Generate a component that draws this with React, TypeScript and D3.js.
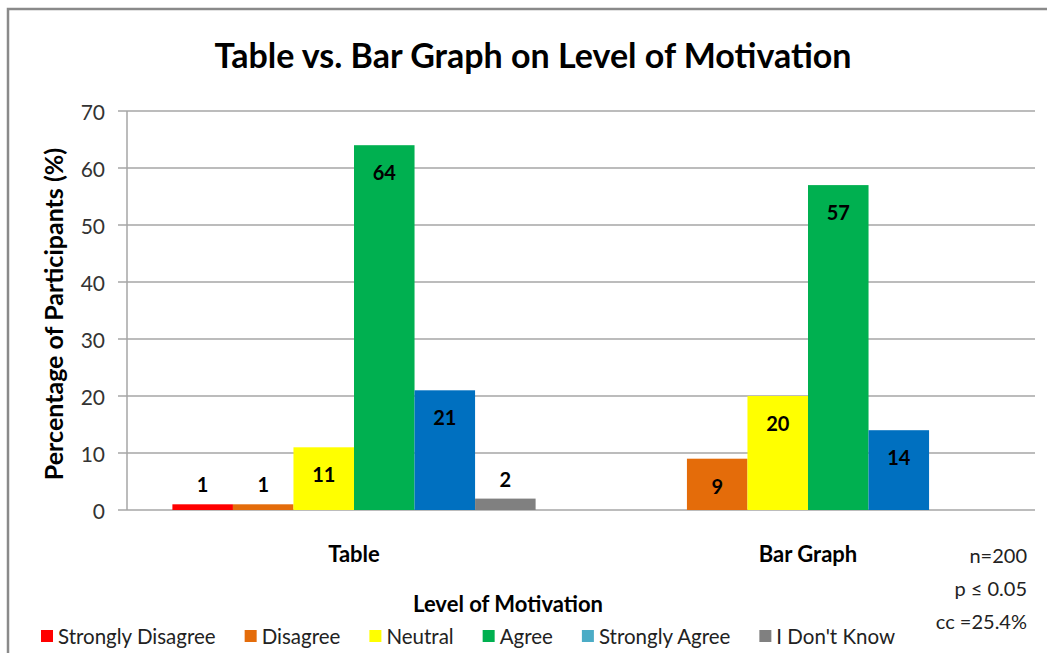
import React, { useEffect, useRef } from 'react';
import * as d3 from 'd3';

// chart data
const categories = ['Table', 'Bar Graph'];
const seriesNames = ['Strongly Disagree', 'Disagree', 'Neutral', 'Agree', 'Strongly Agree', "I Don't Know"];
const tableValues = [1, 1, 11, 64, 21, 2];
const barGraphValues = [null, 9, 20, 57, 14, null];
const barColors = ['#FF0000', '#E46C0A', '#FFFF00', '#00B050', '#0070C0', '#808080'];
const legendColors = ['#FF0000', '#E46C0A', '#FFFF00', '#00B050', '#4BACC6', '#808080'];
const yTicks = [0, 10, 20, 30, 40, 50, 60, 70];
const statsLines = ['n=200', 'p ≤ 0.05', 'cc =25.4%'];

const W = 1047;
const H = 653;
const FONT = 'Lato, "Open Sans", sans-serif';

const App = () => {
  const svgRef = useRef<SVGSVGElement>(null);

  useEffect(() => {
    const root = d3.select(svgRef.current);
    root.selectAll('*').remove();

    const svg = root.attr('width', W).attr('height', H);

    // background + outer border
    svg.append('rect').attr('width', W).attr('height', H).attr('fill', '#fff');
    svg.append('rect')
      .attr('x', 8).attr('y', 9)
      .attr('width', W + 20).attr('height', H + 20)
      .attr('fill', 'none')
      .attr('stroke', '#8a8a8a')
      .attr('stroke-width', 2.5);

    const plot = { left: 127, right: 1035, top: 111, bottom: 510 };

    const y = d3.scaleLinear().domain([0, 70]).range([plot.bottom, plot.top]);
    const x0 = d3.scaleBand().domain(categories).range([plot.left, plot.right]).padding(0);
    const x1 = d3.scaleBand().domain(seriesNames).range([0, x0.bandwidth()]).paddingInner(0).paddingOuter(0.75);

    // title
    svg.append('text')
      .attr('x', 533).attr('y', 68)
      .attr('text-anchor', 'middle')
      .style('font-family', FONT).style('font-weight', 700).style('font-size', '34px')
      .style('fill', '#000')
      .text('Table vs. Bar Graph on Level of Motivation');

    // gridlines + ticks
    const grid = svg.append('g');
    yTicks.forEach(t => {
      grid.append('line')
        .attr('x1', plot.left - 9).attr('x2', plot.right)
        .attr('y1', y(t)).attr('y2', y(t))
        .attr('stroke', '#a6a6a6').attr('stroke-width', 1.5);
      grid.append('text')
        .attr('x', 105).attr('y', y(t))
        .attr('text-anchor', 'end').attr('dominant-baseline', 'central')
        .style('font-family', FONT).style('font-size', '21px').style('fill', '#333')
        .text(t);
    });
    svg.append('line')
      .attr('x1', plot.left).attr('x2', plot.left)
      .attr('y1', plot.top).attr('y2', plot.bottom)
      .attr('stroke', '#a6a6a6').attr('stroke-width', 1.5);

    // y axis title
    svg.append('text')
      .attr('transform', 'translate(53,314) rotate(-90)')
      .attr('text-anchor', 'middle').attr('dominant-baseline', 'central')
      .style('font-family', FONT).style('font-weight', 700).style('font-size', '25px')
      .text('Percentage of Participants (%)');

    // bars
    const groups = [tableValues, barGraphValues];
    categories.forEach((cat, ci) => {
      const g = svg.append('g').attr('transform', `translate(${x0(cat)},0)`);
      groups[ci].forEach((v, si) => {
        if (v == null) return;
        const name = seriesNames[si];
        const bx = x1(name)!;
        const top = y(v);
        g.append('rect')
          .attr('x', bx).attr('y', top)
          .attr('width', x1.bandwidth()).attr('height', y(0) - top)
          .attr('fill', barColors[si]);
        const inside = v >= 5;
        g.append('text')
          .attr('x', bx + x1.bandwidth() / 2)
          .attr('y', inside ? top + 27 : top - 20)
          .attr('text-anchor', 'middle').attr('dominant-baseline', 'central')
          .style('font-family', FONT).style('font-weight', 700).style('font-size', '20px')
          .style('fill', '#000')
          .text(v);
      });
      svg.append('text')
        .attr('x', x0(cat)! + x0.bandwidth() / 2).attr('y', 553)
        .attr('text-anchor', 'middle').attr('dominant-baseline', 'central')
        .style('font-family', FONT).style('font-weight', 700).style('font-size', '22px')
        .text(cat);
    });

    // x axis title
    svg.append('text')
      .attr('x', 508).attr('y', 603)
      .attr('text-anchor', 'middle').attr('dominant-baseline', 'central')
      .style('font-family', FONT).style('font-weight', 700).style('font-size', '22px')
      .text('Level of Motivation');

    // legend
    const legend = svg.append('g');
    let lx = 41;
    seriesNames.forEach((name, i) => {
      legend.append('rect')
        .attr('x', lx).attr('y', 630)
        .attr('width', 12).attr('height', 12)
        .attr('fill', legendColors[i]);
      const t = legend.append('text')
        .attr('x', lx + 17).attr('y', 636)
        .attr('dominant-baseline', 'central')
        .style('font-family', FONT).style('font-size', '20.5px').style('fill', '#222')
        .text(name);
      const w = (t.node() as SVGTextElement).getComputedTextLength();
      lx += 17 + w + 29;
    });

    // stats note
    statsLines.forEach((line, i) => {
      svg.append('text')
        .attr('x', 1027).attr('y', 555 + i * 33)
        .attr('text-anchor', 'end').attr('dominant-baseline', 'central')
        .style('font-family', FONT).style('font-size', '20px').style('fill', '#222')
        .text(line);
    });
  }, []);

  return (
    <svg ref={svgRef} style={{ position: 'absolute', left: 0, top: 0, display: 'block' }}></svg>
  );
};

export default App;
